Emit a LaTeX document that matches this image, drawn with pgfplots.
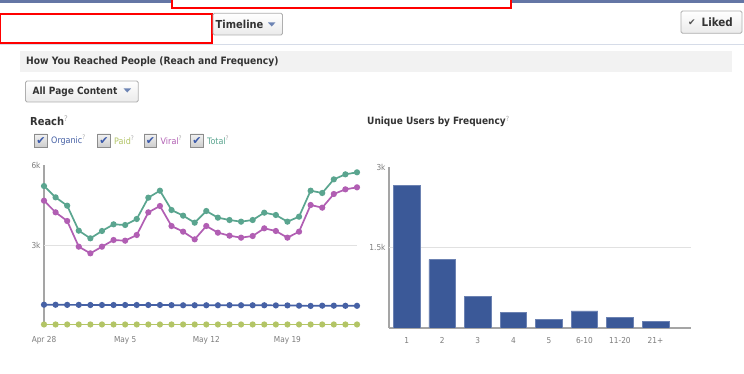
\documentclass[border=0pt]{standalone}
\usepackage{pgfplots}
\pgfplotsset{compat=1.18}
\usetikzlibrary{calc}
\usepackage{fontspec}
\setmainfont{DejaVu Sans Condensed}
\newfontfamily\symfont{DejaVu Sans}
\definecolor{ctotal}{RGB}{90,165,143}
\definecolor{cviral}{RGB}{177,94,179}
\definecolor{corganic}{RGB}{70,97,165}
\definecolor{cpaid}{RGB}{179,197,102}
\definecolor{cbar}{RGB}{59,89,152}
\definecolor{ccheck}{RGB}{60,90,170}
\definecolor{cstrip}{RGB}{100,118,165}
\definecolor{ctext}{RGB}{51,51,51}
\definecolor{cticks}{RGB}{125,125,125}
\definecolor{cgrid}{RGB}{225,225,225}
\definecolor{caxis}{RGB}{165,165,165}
\definecolor{cband}{RGB}{242,242,242}
\definecolor{cbtnborder}{RGB}{175,175,175}
\definecolor{ctri}{RGB}{109,132,180}
\definecolor{cq}{RGB}{170,170,170}
\newcommand\fs[1]{\fontsize{#1}{#1}\selectfont}
\begin{document}
\begin{tikzpicture}
\useasboundingbox (0pt,0pt) rectangle (744pt,374pt);
\begin{scope}[x=1pt,y=1pt]
\fill[white] (0,0) rectangle (744,374);
% header
\fill[cstrip] (0,371) rectangle (744,374);
\draw[color={rgb,255:red,214;green,220;blue,232}, line width=1pt] (0,329.5) -- (744,329.5);
\draw[red, line width=2.2pt, fill=white] (172,366) rectangle (511,378);
\draw[red, line width=2.2pt, fill=white] (0,331) rectangle (212,360);
% Timeline button
\shade[top color=white, bottom color=black!8, rounded corners=1.5pt] (213,339) rectangle (282.5,360.7);
\draw[cbtnborder, rounded corners=1.5pt, line width=0.8pt] (213,339) rectangle (282.5,360.7);
\node[anchor=west, inner sep=0, text=ctext] at (215.5,349.8) {\fs{11}\bfseries Timeline};
\fill[ctri] (268,351.5) -- (275.4,351.5) -- (271.7,347.5) -- cycle;
% Liked button
\shade[top color=white, bottom color=black!8, rounded corners=1.5pt] (681,340.7) rectangle (742,363);
\draw[cbtnborder, rounded corners=1.5pt, line width=0.8pt] (681,340.7) rectangle (742,363);
\node[inner sep=0, text=ctext!85] at (692,351.3) {\symfont\fs{9}✔};
\node[anchor=west, inner sep=0, text=ctext] at (701.5,351.8) {\fs{11.5}\bfseries Liked};
% band
\fill[cband] (20,302) rectangle (732,323);
\node[anchor=west, inner sep=0, text=ctext] at (26,312.5) {\fs{10.2}\bfseries How You Reached People (Reach and Frequency)};
% All Page Content button
\shade[top color=white, bottom color=black!8, rounded corners=1.5pt] (25.5,272) rectangle (138.3,293);
\draw[cbtnborder, rounded corners=1.5pt, line width=0.8pt] (25.5,272) rectangle (138.3,293);
\node[anchor=west, inner sep=0, text=ctext] at (32.5,282.5) {\fs{10}\bfseries All Page Content};
\fill[ctri] (123.6,285.5) -- (131,285.5) -- (127.3,281.5) -- cycle;
% section titles
\node[anchor=west, inner sep=0, text=ctext] at (30,253) {\fs{11}\bfseries Reach\textsuperscript{\color{cq}\mdseries ?}};
\node[anchor=west, inner sep=0, text=ctext] at (367,252.5) {\fs{10}\bfseries Unique Users by Frequency\textsuperscript{\color{cq}\mdseries ?}};
% checkboxes
\foreach \bx/\lab/\col in {34.5/Organic/corganic, 97.5/Paid/cpaid, 144/Viral/cviral, 190.5/Total/ctotal}{
  \shade[top color=black!5, bottom color=black!20] (\bx,227) rectangle ++(12.5,13);
  \draw[black!45, line width=0.7pt] (\bx,227) rectangle ++(12.5,13);
  \node[inner sep=0, text=ccheck] at ($(\bx,232.8)+(6.5,0)$) {\symfont\fs{11}✔};
  \node[anchor=west, inner sep=0, text=\col] at ($(\bx,233.5)+(16.5,0)$) {\fs{8.9}\lab\textsuperscript{\color{cq}?}};
}
\end{scope}
% Reach line chart
\begin{axis}[at={(44pt,49pt)}, anchor=south west, scale only axis,
  width=313pt, height=160pt,
  xmin=0, xmax=27, ymin=0, ymax=6000, enlargelimits=false,
  axis lines=left, axis line style={-, draw=caxis, line width=1.2pt},
  x axis line style={draw=none},
  xtick={0,7,14,21}, xticklabels={Apr 28,May 5,May 12,May 19},
  ytick={6000}, yticklabels={6k},
  extra y ticks={3000}, extra y tick labels={3k},
  extra y tick style={grid=major},
  major grid style={cgrid, line width=0.9pt},
  major tick length=0pt,
  tick label style={font=\fs{8.2}, text=cticks},
  xticklabel style={yshift=-8pt},
  scaled y ticks=false, clip=false,
  every axis plot/.append style={line width=1.7pt, mark=*, mark size=2.2pt}]
\addplot[color=corganic] coordinates {
(0,760) (1,760) (2,755) (3,755) (4,750) (5,750) (6,750) (7,750) (8,750) (9,750)
(10,750) (11,745) (12,740) (13,740) (14,740) (15,740) (16,745) (17,740) (18,740) (19,740)
(20,735) (21,735) (22,725) (23,715) (24,725) (25,725) (26,720) (27,720)};
\addplot[color=cpaid] coordinates {
(0,20) (1,20) (2,20) (3,20) (4,20) (5,20) (6,20) (7,20) (8,20) (9,20)
(10,20) (11,20) (12,20) (13,20) (14,20) (15,20) (16,20) (17,20) (18,20) (19,20)
(20,20) (21,20) (22,20) (23,20) (24,20) (25,20) (26,20) (27,20)};
\addplot[color=cviral] coordinates {
(0,4662) (1,4225) (2,3900) (3,2937) (4,2687) (5,2937) (6,3187) (7,3162) (8,3375) (9,4225)
(10,4462) (11,3712) (12,3500) (13,3212) (14,3712) (15,3462) (16,3350) (17,3275) (18,3337) (19,3625)
(20,3525) (21,3275) (22,3500) (23,4500) (24,4400) (25,4912) (26,5087) (27,5162)};
\addplot[color=ctotal] coordinates {
(0,5212) (1,4787) (2,4475) (3,3537) (4,3250) (5,3525) (6,3775) (7,3750) (8,3975) (9,4775)
(10,5037) (11,4312) (12,4100) (13,3837) (14,4275) (15,4025) (16,3937) (17,3875) (18,3937) (19,4212)
(20,4125) (21,3875) (22,4062) (23,5037) (24,4950) (25,5462) (26,5650) (27,5725)};
\end{axis}
% Frequency bar chart
\begin{axis}[at={(389pt,46pt)}, anchor=south west, scale only axis,
  width=302pt, height=161pt,
  xmin=-0.5, xmax=8, ymin=0, ymax=3000, enlargelimits=false,
  axis lines=left, axis line style={-, draw=caxis, line width=1.5pt},
  ybar, bar width=26.7pt,
  xtick={0,1,2,3,4,5,6,7}, xticklabels={1,2,3,4,5,6-10,11-20,21+},
  ytick={3000}, yticklabels={3k},
  extra y ticks={1500}, extra y tick labels={1.5k},
  extra y tick style={grid=major},
  major grid style={cgrid, line width=0.9pt},
  major tick length=0pt,
  tick label style={font=\fs{8.2}, text=cticks},
  xticklabel style={yshift=-6pt},
  scaled y ticks=false]
\addplot[fill=cbar, draw=cbar!75!white, line width=0.6pt] coordinates {
(0,2661) (1,1272) (2,593) (3,290) (4,167) (5,320) (6,204) (7,124)};
\end{axis}
\end{tikzpicture}
\end{document}
